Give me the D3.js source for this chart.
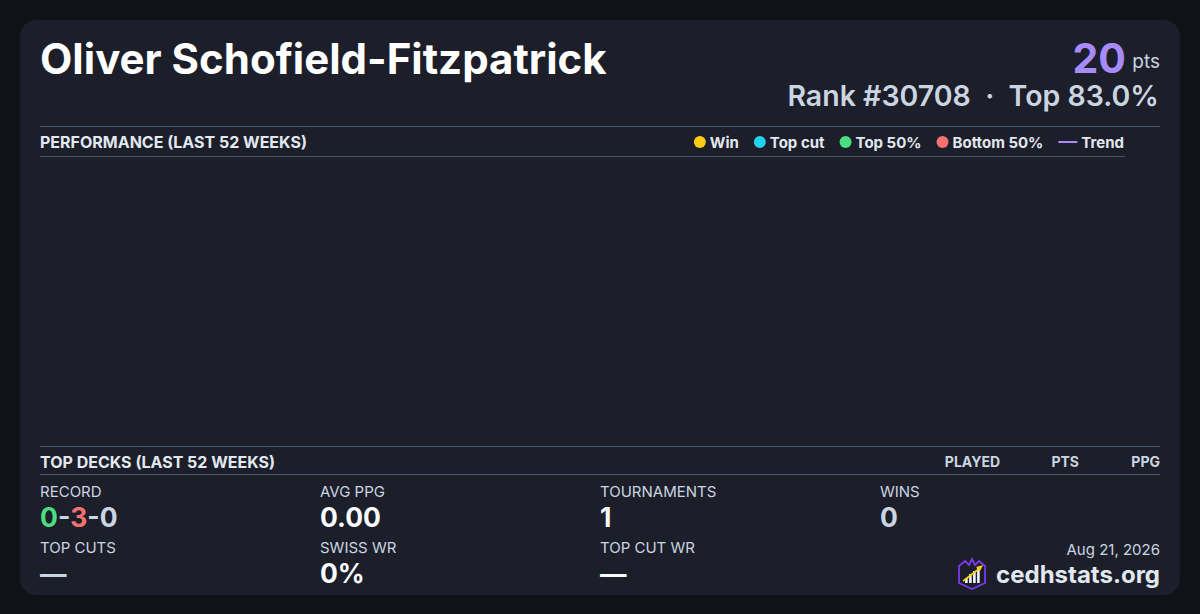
<!DOCTYPE html>
<html>
<head>
<meta charset="utf-8">
<script src="https://cdn.jsdelivr.net/npm/d3@7"></script>
<style>
  html, body { margin: 0; padding: 0; background: #111217; }
  svg { display: block; font-family: Inter, "Noto Sans", sans-serif; }
</style>
</head>
<body>
<div id="card"></div>
<script>
// player card — performance (last 52 weeks) + summary stats

const playerName = 'Oliver Schofield-Fitzpatrick';
const totalPoints = 20;
const rankLabel = 'Rank #30708';
const topPctLabel = 'Top 83.0%';
const dateLabel = 'Aug 21, 2026';
const siteLabel = 'cedhstats.org';

// legend categories
const legendKeys = ['Win', 'Top cut', 'Top 50%', 'Bottom 50%', 'Trend'];
const legendColors = ['#facc15', '#22d3ee', '#4ade80', '#f87171', '#a78bfa'];

// weekly results (none in the last 52 weeks)
const weekIndex = [];
const weekPoints = [];
const weekResult = [];

// top decks table
const deckColumns = ['PLAYED', 'PTS', 'PPG'];
const deckRows = [];

// record W-L-D
const recordParts = ['0', '3', '0'];
const recordColors = ['#4ade80', '#f87171', '#cbd5e1'];

// stat tiles
const statLabels = ['RECORD', 'AVG PPG', 'TOURNAMENTS', 'WINS', 'TOP CUTS', 'SWISS WR', 'TOP CUT WR'];
const statValues = [null, '0.00', '1', '0', '—', '0%', '—'];
const statColors = [null, '#f8fafc', '#f8fafc', '#cbd5e1', '#cbd5e1', '#f8fafc', '#f8fafc'];

const W = 1200, H = 614;
const svg = d3.select('#card').append('svg').attr('width', W).attr('height', H);

svg.append('rect').attr('width', W).attr('height', H).attr('fill', '#111217');
svg.append('rect')
  .attr('x', 20).attr('y', 20).attr('width', 1160).attr('height', 575)
  .attr('rx', 16).attr('fill', '#1c1e29');

// header
svg.append('text')
  .attr('x', 40).attr('y', 74)
  .attr('fill', '#ffffff').attr('font-size', 42).attr('font-weight', 700)
  .text(playerName);

svg.append('text')
  .attr('x', 1160).attr('y', 68).attr('text-anchor', 'end')
  .attr('fill', '#cbd5e1').attr('font-size', 19)
  .text('pts');
svg.append('text')
  .attr('x', 1126).attr('y', 73).attr('text-anchor', 'end')
  .attr('fill', '#a78bfa').attr('font-size', 41).attr('font-weight', 700)
  .text(totalPoints);

svg.append('text')
  .attr('x', 1159).attr('y', 106).attr('text-anchor', 'end')
  .attr('fill', '#cbd5e1').attr('font-size', 28.5).attr('font-weight', 600)
  .attr('xml:space', 'preserve')
  .text(`${rankLabel}  ·  ${topPctLabel}`);

// performance section
const rule = (x1, x2, y) => svg.append('line')
  .attr('x1', x1).attr('x2', x2).attr('y1', y).attr('y2', y)
  .attr('stroke', '#4a5670').attr('stroke-width', 1);

rule(40, 1160, 126.5);
rule(40, 1125, 156.5);

svg.append('text')
  .attr('x', 40).attr('y', 148)
  .attr('fill', '#e2e8f0').attr('font-size', 16).attr('font-weight', 700)
  .text('PERFORMANCE (LAST 52 WEEKS)');

// legend, laid out right-to-left so it ends at the rule
const legend = svg.append('g').attr('font-size', 15).attr('font-weight', 700);
let lx = 1124;
for (let i = legendKeys.length - 1; i >= 0; i--) {
  const t = legend.append('text')
    .attr('x', lx).attr('y', 148).attr('text-anchor', 'end')
    .attr('fill', '#e2e8f0').text(legendKeys[i]);
  const tw = t.node().getComputedTextLength();
  const sx = lx - tw - 4;
  if (legendKeys[i] === 'Trend') {
    legend.append('line')
      .attr('x1', sx - 19).attr('x2', sx).attr('y1', 142).attr('y2', 142)
      .attr('stroke', legendColors[i]).attr('stroke-width', 2);
    lx = sx - 19 - 15;
  } else {
    legend.append('circle')
      .attr('cx', sx - 6).attr('cy', 142).attr('r', 6)
      .attr('fill', legendColors[i]);
    lx = sx - 12 - 15;
  }
}

// chart area (empty — no results in window)
const plot = { left: 40, right: 1160, top: 166, bottom: 436 };
const x = d3.scaleLinear().domain([0, 51]).range([plot.left + 10, plot.right - 10]);
const y = d3.scaleLinear().domain([0, d3.max(weekPoints) || 1]).range([plot.bottom - 10, plot.top + 10]);
const pts52 = weekIndex.map((w, i) => ({ w, p: weekPoints[i], r: weekResult[i] }));
svg.append('g').selectAll('circle')
  .data(pts52)
  .join('circle')
  .attr('cx', d => x(d.w)).attr('cy', d => y(d.p)).attr('r', 5)
  .attr('fill', d => legendColors[legendKeys.indexOf(d.r)]);

// top decks section
rule(40, 1160, 446.5);
rule(40, 1160, 474.5);

svg.append('text')
  .attr('x', 40).attr('y', 468)
  .attr('fill', '#e2e8f0').attr('font-size', 16).attr('font-weight', 700)
  .text('TOP DECKS (LAST 52 WEEKS)');

const colX = d3.scaleOrdinal().domain(deckColumns).range([1000, 1079, 1160]);
svg.append('g').selectAll('text')
  .data(deckColumns)
  .join('text')
  .attr('x', d => colX(d)).attr('y', 467).attr('text-anchor', 'end')
  .attr('fill', '#cbd5e1').attr('font-size', 14).attr('font-weight', 700)
  .text(d => d);

// stats grid
const tileX = d3.scaleLinear().domain([0, 4]).range([40, 1160]);
const tileRow = [497, 553];
statLabels.forEach((lab, i) => {
  const col = i % 4, row = Math.floor(i / 4);
  const tx = tileX(col), ty = tileRow[row];
  svg.append('text')
    .attr('x', tx).attr('y', ty)
    .attr('fill', '#cbd5e1').attr('font-size', 15)
    .text(lab);
  const v = svg.append('text')
    .attr('x', tx).attr('y', ty + 30)
    .attr('font-size', 26.5).attr('font-weight', 700);
  if (i === 0) {
    recordParts.forEach((p, k) => {
      if (k > 0) v.append('tspan').attr('fill', '#cbd5e1').text('-');
      v.append('tspan').attr('fill', recordColors[k]).text(p);
    });
  } else {
    v.attr('fill', statColors[i]).text(statValues[i]);
  }
});

// footer
svg.append('text')
  .attr('x', 1160).attr('y', 555).attr('text-anchor', 'end')
  .attr('fill', '#cbd5e1').attr('font-size', 15)
  .text(dateLabel);

const site = svg.append('text')
  .attr('x', 1160).attr('y', 583).attr('text-anchor', 'end')
  .attr('fill', '#e2e8f0').attr('font-size', 24).attr('font-weight', 700)
  .text(siteLabel);
const sw = site.node().getComputedTextLength();

// logo: shield with bars and rising arrow
const logo = svg.append('g').attr('transform', `translate(${1160 - sw - 38},559)`);
logo.append('path')
  .attr('d', 'M1,7 L7,2 L11,6 L14,0 L17,6 L21,2 L27,7 L27,24 L14,30 L1,24 Z')
  .attr('fill', 'none').attr('stroke', '#7c3aed').attr('stroke-width', 1.8);
[[7, 19, 5], [11, 15, 9], [15, 12, 12], [19, 9, 15]].forEach(([bx, by, bh]) => {
  logo.append('rect').attr('x', bx).attr('y', by).attr('width', 2.6).attr('height', bh)
    .attr('fill', '#f1f5f9');
});
logo.append('line').attr('x1', 5).attr('y1', 22).attr('x2', 22).attr('y2', 9)
  .attr('stroke', '#facc15').attr('stroke-width', 1.6);
logo.append('path').attr('d', 'M25,6 L18,8 L22,12 Z').attr('fill', '#facc15');
</script>
</body>
</html>
